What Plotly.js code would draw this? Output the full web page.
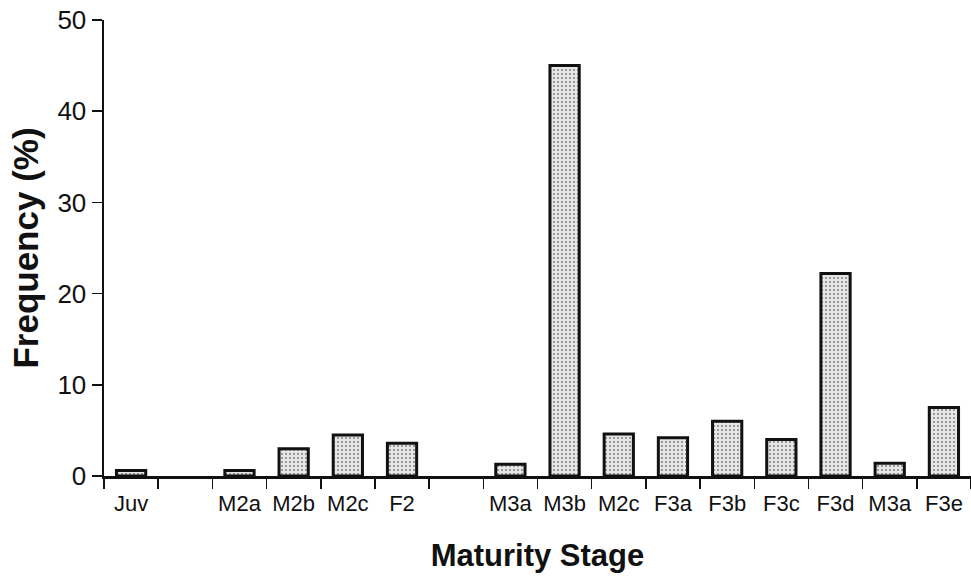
<!DOCTYPE html>
<html>
<head>
<meta charset="utf-8">
<script src="https://cdn.plot.ly/plotly-3.0.1.min.js"></script>
<style>
  html, body { margin: 0; padding: 0; background: #fff; }
  #chart { width: 971px; height: 576px; }
</style>
</head>
<body>
<div id="chart"></div>
<script>
// Maturity stage slots along the x axis (empty strings are gaps between groups)
const stages = ["Juv", "", "M2a", "M2b", "M2c", "F2", "", "M3a", "M3b", "M2c", "F3a", "F3b", "F3c", "F3d", "M3a", "F3e"];
// Frequency (%) of each stage
const frequency = [0.6, null, 0.6, 3.0, 4.5, 3.6, null, 1.3, 45.0, 4.6, 4.2, 6.0, 4.0, 22.2, 1.4, 7.5];
// Slot positions 1..n
const slots = stages.map((_, i) => i + 1);
const yTicks = [0, 10, 20, 30, 40, 50];

const font = "Liberation Sans, Arial, Helvetica, sans-serif";

const trace = {
  type: "bar",
  x: slots,
  y: frequency,
  width: 0.54,
  marker: {
    color: "#e0e0e0",
    line: { color: "#111", width: 3 },
    pattern: { shape: ".", fgcolor: "#7a7a7a", bgcolor: "#e6e6e6", size: 4, solidity: 0.18 }
  },
  hoverinfo: "x+y"
};

const layout = {
  width: 971,
  height: 576,
  margin: { l: 104, r: 0, t: 20, b: 100 },
  paper_bgcolor: "#fff",
  plot_bgcolor: "#fff",
  showlegend: false,
  font: { family: font, color: "#111" },
  xaxis: {
    range: [0.5, stages.length + 0.5],
    tickmode: "array",
    tickvals: slots,
    ticktext: stages,
    // invisible major ticks only push the labels down; visible ticks sit on slot boundaries
    ticks: "outside",
    ticklen: 6,
    tickcolor: "rgba(0,0,0,0)",
    tickfont: { size: 22, family: font, color: "#111" },
    showgrid: false,
    zeroline: false,
    showline: true,
    linecolor: "#111",
    linewidth: 2.5,
    minor: { tick0: 0.5, dtick: 1, ticks: "outside", ticklen: 10, tickwidth: 1.5, tickcolor: "#111", showgrid: false },
    title: { text: "Maturity Stage", font: { size: 31, family: font, color: "#111", weight: "bold" }, standoff: 30 },
    fixedrange: true
  },
  yaxis: {
    range: [0, 50],
    tickmode: "array",
    tickvals: yTicks,
    ticktext: yTicks.map(String),
    ticks: "outside",
    ticklen: 10,
    tickwidth: 1.5,
    tickcolor: "#111",
    tickfont: { size: 26, family: font, color: "#111" },
    showgrid: false,
    zeroline: false,
    showline: true,
    linecolor: "#111",
    linewidth: 2.5,
    title: { text: "Frequency (%)", font: { size: 35, family: font, color: "#111", weight: "bold" }, standoff: 8 },
    fixedrange: true
  }
};

Plotly.newPlot("chart", [trace], layout, { displayModeBar: false, staticPlot: true });
</script>
</body>
</html>
